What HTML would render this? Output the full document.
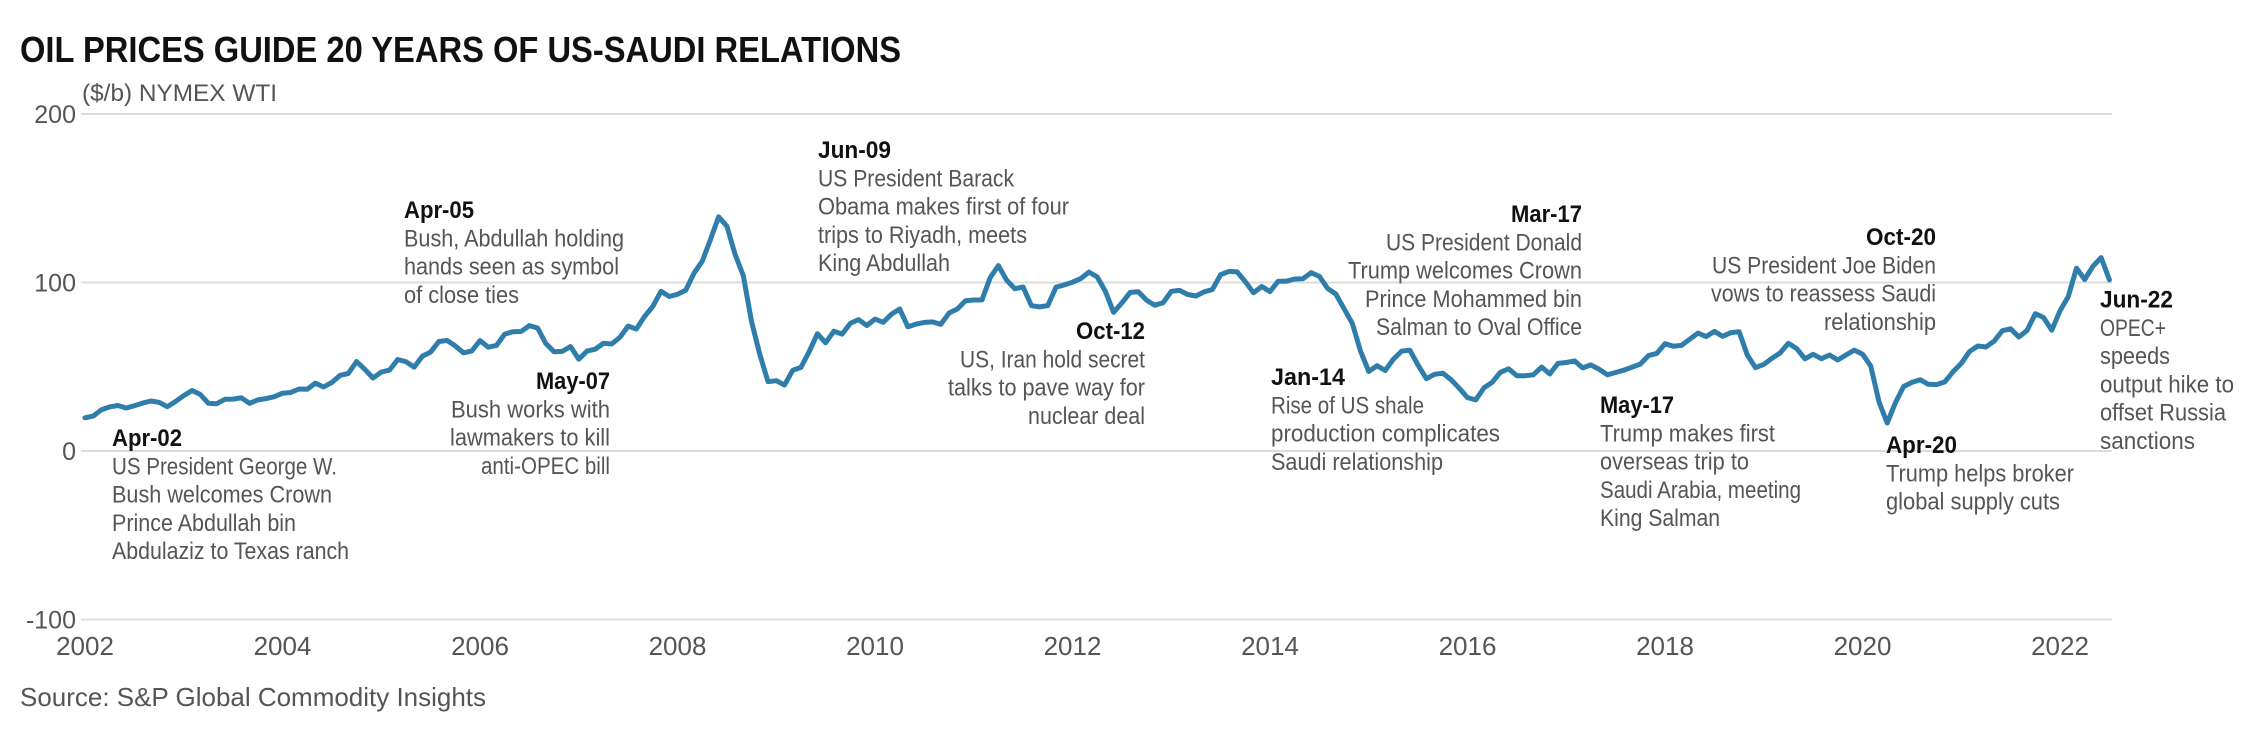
<!DOCTYPE html>
<html><head><meta charset="utf-8"><style>
html,body{margin:0;padding:0;background:#fff}
svg{display:block}
text{font-family:"Liberation Sans",sans-serif}
</style></head><body>
<svg id="chart" width="2264" height="744" viewBox="0 0 2264 744" xmlns="http://www.w3.org/2000/svg">
<rect width="2264" height="744" fill="#fff"/>
<text x="20" y="62" font-size="36" font-weight="bold" fill="#111" textLength="881" lengthAdjust="spacingAndGlyphs">OIL PRICES GUIDE 20 YEARS OF US-SAUDI RELATIONS</text>
<text x="82" y="101" font-size="24" fill="#555" textLength="195" lengthAdjust="spacingAndGlyphs">($/b) NYMEX WTI</text>
<text x="20" y="706" font-size="26" fill="#555" textLength="466" lengthAdjust="spacingAndGlyphs">Source: S&amp;P Global Commodity Insights</text>
<g id="grid"></g><g id="series"></g><g id="notes"></g>
</svg>
<script>
const yTicks=[200,100,0,-100];
const xTickYears=[2002,2004,2006,2008,2010,2012,2014,2016,2018,2020,2022];
const startYear=2002;
const wti2002=[19.7,20.7,24.5,26.2,27.0,25.5,26.9,28.4,29.7,28.9,26.3,29.4];
const wti2003=[32.9,35.9,33.6,28.3,28.1,30.7,30.8,31.6,28.3,30.3,31.1,32.2];
const wti2004=[34.3,34.7,36.8,36.7,40.3,38.0,40.7,44.9,46.0,53.1,48.5,43.3];
const wti2005=[46.8,48.0,54.3,53.0,49.8,56.3,58.7,65.0,65.6,62.4,58.3,59.4];
const wti2006=[65.5,61.6,62.7,69.4,70.8,70.9,74.4,73.0,63.8,58.9,59.1,62.0];
const wti2007=[54.5,59.3,60.4,63.9,63.5,67.5,74.1,72.4,79.9,85.8,94.8,91.7];
const wti2008=[93.0,95.4,105.5,112.6,125.4,139.0,133.4,116.7,104.1,76.6,57.3,41.1];
const wti2009=[41.7,39.1,47.9,49.6,59.0,69.6,64.2,71.1,69.4,75.7,78.0,74.5];
const wti2010=[78.3,76.4,81.2,84.3,73.7,75.3,76.3,76.6,75.2,81.9,84.3,89.2];
const wti2011=[89.6,89.7,102.9,110.0,101.3,96.3,97.3,86.3,85.5,86.3,97.2,98.6];
const wti2012=[100.2,102.3,106.2,103.3,94.7,82.3,87.9,94.1,94.5,89.5,86.5,87.9];
const wti2013=[94.8,95.3,92.9,92.0,94.5,95.8,104.6,106.6,106.3,100.5,93.9,97.6];
const wti2014=[94.6,100.8,100.8,102.1,102.2,105.8,103.6,96.5,93.2,84.4,75.8,59.3];
const wti2015=[47.2,50.6,47.8,54.5,59.3,59.8,50.9,42.9,45.5,46.2,42.4,37.2];
const wti2016=[31.7,30.3,37.5,40.8,46.7,48.8,44.7,44.7,45.2,49.8,45.7,52.0];
const wti2017=[52.5,53.5,49.3,51.1,48.5,45.2,46.6,48.0,49.8,51.6,56.6,57.9];
const wti2018=[63.7,62.2,62.7,66.3,70.0,67.9,71.0,68.1,70.2,70.8,57.0,49.5];
const wti2019=[51.4,55.0,58.2,63.9,60.8,54.7,57.4,54.8,57.0,54.0,57.0,59.9];
const wti2020=[57.5,50.5,29.2,16.6,28.6,38.3,40.7,42.3,39.6,39.4,41.0,47.0];
const wti2021=[52.0,59.0,62.3,61.7,65.2,71.4,72.5,67.7,71.6,81.5,79.2,71.7];
const wti2022=[83.2,91.6,108.5,101.8,109.6,114.8,101.6];
const prices=[].concat(wti2002,wti2003,wti2004,wti2005,wti2006,wti2007,wti2008,wti2009,wti2010,wti2011,wti2012,wti2013,wti2014,wti2015,wti2016,wti2017,wti2018,wti2019,wti2020,wti2021,wti2022);

const NS="http://www.w3.org/2000/svg";
const x0=85,pxPerYear=98.75,y0=451,pxPerUnit=1.685;
function xScale(t){return x0+(t-startYear)*pxPerYear;}
function yScale(v){return y0-v*pxPerUnit;}
function mk(tag,attrs,parent){const e=document.createElementNS(NS,tag);for(const k in attrs)e.setAttribute(k,attrs[k]);parent.appendChild(e);return e;}

const grid=document.getElementById('grid');
yTicks.forEach(v=>{
  const l=mk('line',{x1:81,x2:2112,y1:yScale(v),y2:yScale(v),stroke:'#dcdcdc','stroke-width':2},grid);
  
  
  const t=mk('text',{x:76,y:yScale(v)+9,'font-size':25,fill:'#555','text-anchor':'end'},grid);
  t.textContent=String(v);
  
  
});
xTickYears.forEach(yr=>{
  const t=mk('text',{x:xScale(yr),y:655,'font-size':26,fill:'#555','text-anchor':'middle'},grid);
  t.textContent=String(yr);
  
  
});

let d='';
prices.forEach((v,i)=>{d+=(i?'L':'M')+xScale(startYear+i/12).toFixed(1)+','+yScale(v).toFixed(1);});
const path=mk('path',{d:d,fill:'none',stroke:'#2f7dab','stroke-width':5,'stroke-linejoin':'round','stroke-linecap':'round'},document.getElementById('series'));



const notes=[
 {id:'apr-02',x:112,y:446,a:'start',lines:[['Apr-02',70],['US President George W.',225],['Bush welcomes Crown',220],['Prince Abdullah bin',184],['Abdulaziz to Texas ranch',237]]},
 {id:'apr-05',x:404,y:218,a:'start',lines:[['Apr-05',70],['Bush, Abdullah holding',220],['hands seen as symbol',215],['of close ties',115]]},
 {id:'may-07',x:610,y:389,a:'end',lines:[['May-07',74],['Bush works with',159],['lawmakers to kill',160],['anti-OPEC bill',129]]},
 {id:'jun-09',x:818,y:158,a:'start',lines:[['Jun-09',73],['US President Barack',196],['Obama makes first of four',251],['trips to Riyadh, meets',209],['King Abdullah',132]]},
 {id:'oct-12',x:1145,y:339,a:'end',lines:[['Oct-12',69],['US, Iran hold secret',185],['talks to pave way for',197],['nuclear deal',117]]},
 {id:'jan-14',x:1271,y:385,a:'start',lines:[['Jan-14',74],['Rise of US shale',153],['production complicates',229],['Saudi relationship',172]]},
 {id:'mar-17',x:1582,y:222,a:'end',lines:[['Mar-17',71],['US President Donald',196],['Trump welcomes Crown',234],['Prince Mohammed bin',217],['Salman to Oval Office',206]]},
 {id:'may-17',x:1600,y:413,a:'start',lines:[['May-17',74],['Trump makes first',175],['overseas trip to',149],['Saudi Arabia, meeting',201],['King Salman',120]]},
 {id:'oct-20',x:1936,y:245,a:'end',lines:[['Oct-20',70],['US President Joe Biden',224],['vows to reassess Saudi',225],['relationship',112]]},
 {id:'apr-20',x:1886,y:453,a:'start',lines:[['Apr-20',71],['Trump helps broker',188],['global supply cuts',174]]},
 {id:'jun-22',x:2100,y:307.5,a:'start',lines:[['Jun-22',73],['OPEC+',66],['speeds',70],['output hike to',134],['offset Russia',126],['sanctions',95]]}
];
const ng=document.getElementById('notes');
notes.forEach(n=>{
  const g=mk('g',{},ng);
  
  
  n.lines.forEach((ln,i)=>{
    const t=mk('text',{x:n.x,y:n.y+i*28.3,'font-size':24,'text-anchor':n.a,fill:i?'#555':'#111','font-weight':i?'normal':'bold',textLength:ln[1],lengthAdjust:'spacingAndGlyphs'},g);
    t.textContent=ln[0];
    
    
  });
});
</script>
</body></html>
